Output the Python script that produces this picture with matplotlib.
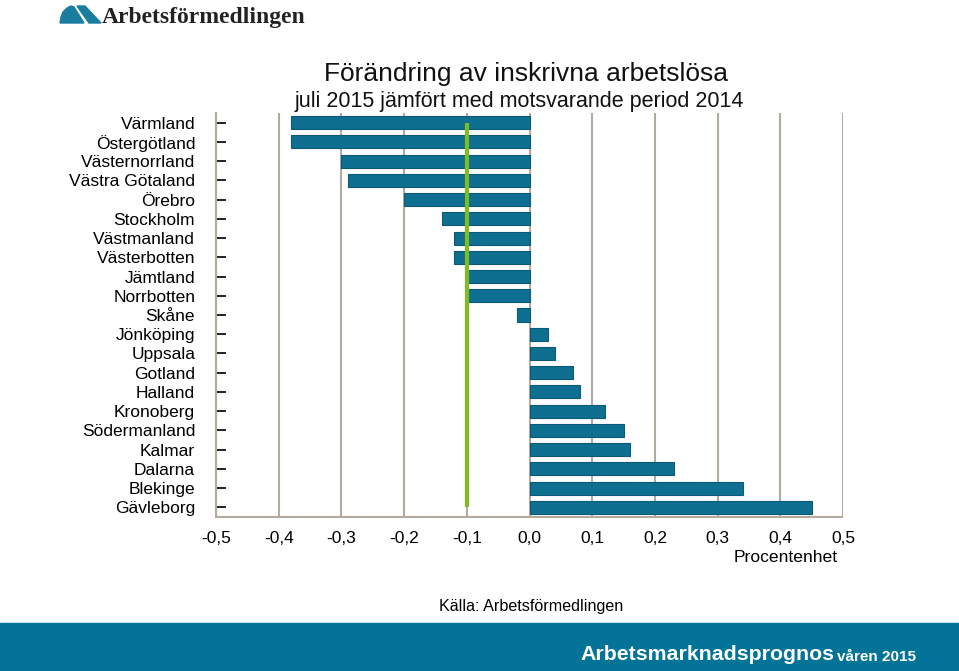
import matplotlib.pyplot as plt
from matplotlib.patches import Rectangle, Polygon
import numpy as np

plt.rcParams['font.family'] = ['Liberation Sans', 'DejaVu Sans']

# data
lan = ['Värmland', 'Östergötland', 'Västernorrland', 'Västra Götaland', 'Örebro',
       'Stockholm', 'Västmanland', 'Västerbotten', 'Jämtland', 'Norrbotten',
       'Skåne', 'Jönköping', 'Uppsala', 'Gotland', 'Halland', 'Kronoberg',
       'Södermanland', 'Kalmar', 'Dalarna', 'Blekinge', 'Gävleborg']
andring = [-0.38, -0.38, -0.30, -0.29, -0.20, -0.14, -0.12, -0.12, -0.10, -0.10,
           -0.02, 0.03, 0.04, 0.07, 0.08, 0.12, 0.15, 0.16, 0.23, 0.34, 0.45]
riket = -0.10
xticks = [-0.5, -0.4, -0.3, -0.2, -0.1, 0.0, 0.1, 0.2, 0.3, 0.4, 0.5]
xticklabels = ['-0,5', '-0,4', '-0,3', '-0,2', '-0,1', '0,0', '0,1', '0,2', '0,3', '0,4', '0,5']

W, H = 959, 671
fig = plt.figure(figsize=(W / 100, H / 100), dpi=100)
ax = fig.add_axes([216 / W, 1 - 517 / H, (843 - 216) / W, (517 - 113) / H])

grid_c = '#b3ab9f'
bar_c = '#0e6f91'

y = np.arange(len(lan))
ax.barh(y, andring, height=0.68, color=bar_c, edgecolor='#0a5a78', linewidth=0.8, zorder=3)
ax.plot([riket, riket], [0, len(lan) - 1], color='#7ebd22', linewidth=3, zorder=4,
        solid_capstyle='butt')

ax.set_xticks(xticks)
ax.set_xticklabels(xticklabels, fontsize=12.5)
ax.set_yticks(y)
ax.set_yticklabels(lan, fontsize=12.5)
ax.set_xlim(-0.5, 0.5)
ax.set_ylim(len(lan) - 0.5, -0.5)
ax.tick_params(axis='y', direction='in', length=7, width=1.3, color='#111111', pad=15)
ax.tick_params(axis='x', length=0, pad=10)
ax.xaxis.grid(True, color=grid_c, linewidth=1.5, zorder=0)
ax.set_axisbelow(True)
for s in ['top', 'right', 'bottom']:
    ax.spines[s].set_visible(False)
ax.spines['left'].set_color(grid_c)
ax.spines['left'].set_linewidth(1.5)
# bottom line, only across the axes
ax.axhline(len(lan) - 0.5, xmin=0, xmax=1, color=grid_c, linewidth=1.5, clip_on=False,
           solid_capstyle='butt')

# titles
fig.text(526 / W, 1 - 74 / H, 'Förändring av inskrivna arbetslösa', ha='center', va='center',
         fontsize=19, color='#111111')
fig.text(519 / W, 1 - 102 / H, 'juli 2015 jämfört med motsvarande period 2014', ha='center',
         va='center', fontsize=15.5, color='#111111')
fig.text(786 / W, 1 - 558 / H, 'Procentenhet', ha='center', va='center', fontsize=12.6)
fig.text(531 / W, 1 - 606 / H, 'Källa: Arbetsförmedlingen', ha='center', va='center', fontsize=11.6)

# logo
def px(xp, yp):
    return (xp / W, 1 - yp / H)

logo_c = '#1a7da0'
fig.patches.append(Polygon([px(60, 23), px(61, 17), px(63, 12), px(67, 8), px(71, 6),
                            px(74, 7), px(84, 23)],
                           closed=True, transform=fig.transFigure, color=logo_c))
fig.patches.append(Polygon([px(77, 6), px(85, 6), px(101, 23), px(89, 23)],
                           closed=True, transform=fig.transFigure, color=logo_c))
fig.text(102 / W, 1 - 17 / H, 'Arbetsförmedlingen', ha='left', va='center', fontsize=17,
         fontweight='bold', family=['Liberation Serif', 'DejaVu Serif'], color='#222222')

# footer
fig.patches.append(Rectangle((0, 0), 1, (H - 623) / H, transform=fig.transFigure,
                             color='#037497', zorder=0))
fig.text(580 / W, 1 - 655 / H, 'Arbetsmarknadsprognos', ha='left', va='center', fontsize=15.3,
         fontweight='bold', color='white')
fig.text(837 / W, 1 - 657 / H, 'våren 2015', ha='left', va='center', fontsize=11,
         fontweight='bold', color='white')

fig.savefig('out.png', dpi=100)
